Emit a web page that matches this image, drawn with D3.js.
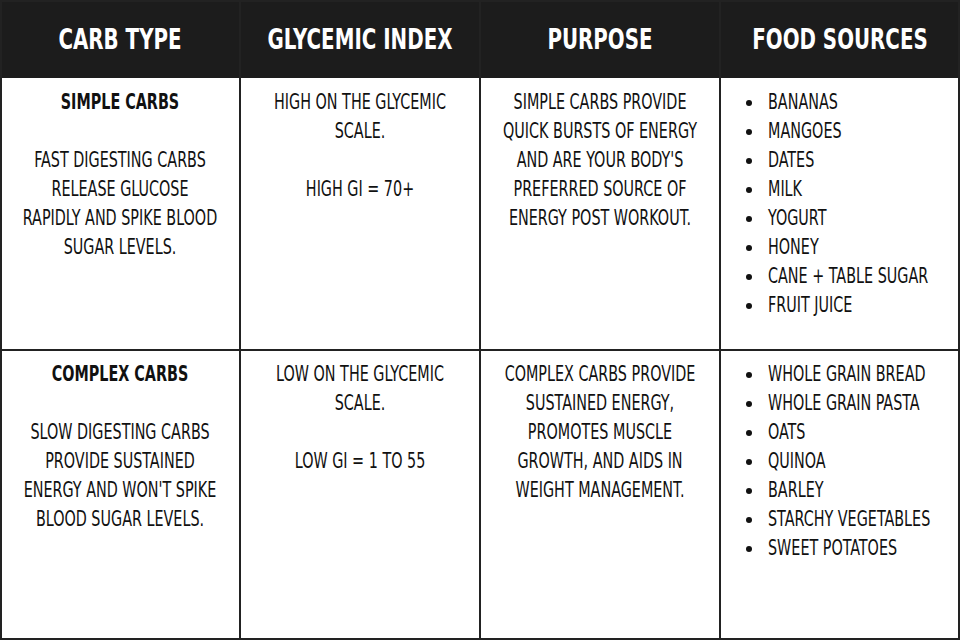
<!DOCTYPE html>
<html>
<head>
<meta charset="utf-8">
<script src="https://cdn.jsdelivr.net/npm/d3@7"></script>
<style>
  body { margin: 0; background: #fff; }
  text { font-family: "DejaVu Sans Condensed", "DejaVu Sans", sans-serif; }
</style>
</head>
<body>
<svg id="chart" width="960" height="640"></svg>
<script>
var headers = ["CARB TYPE", "GLYCEMIC INDEX", "PURPOSE", "FOOD SOURCES"];
var carbTypes = ["SIMPLE CARBS", "COMPLEX CARBS"];
var descriptions = [
  ["FAST DIGESTING CARBS", "RELEASE GLUCOSE", "RAPIDLY AND SPIKE BLOOD", "SUGAR LEVELS."],
  ["SLOW DIGESTING CARBS", "PROVIDE SUSTAINED", "ENERGY AND WON'T SPIKE", "BLOOD SUGAR LEVELS."]
];
var glycemic = [
  ["HIGH ON THE GLYCEMIC", "SCALE.", "", "HIGH GI = 70+"],
  ["LOW ON THE GLYCEMIC", "SCALE.", "", "LOW GI = 1 TO 55"]
];
var purposes = [
  ["SIMPLE CARBS PROVIDE", "QUICK BURSTS OF ENERGY", "AND ARE YOUR BODY'S", "PREFERRED SOURCE OF", "ENERGY POST WORKOUT."],
  ["COMPLEX CARBS PROVIDE", "SUSTAINED ENERGY,", "PROMOTES MUSCLE", "GROWTH, AND AIDS IN", "WEIGHT MANAGEMENT."]
];
var foodSources = [
  ["BANANAS", "MANGOES", "DATES", "MILK", "YOGURT", "HONEY", "CANE + TABLE SUGAR", "FRUIT JUICE"],
  ["WHOLE GRAIN BREAD", "WHOLE GRAIN PASTA", "OATS", "QUINOA", "BARLEY", "STARCHY VEGETABLES", "SWEET POTATOES"]
];

var svg = d3.select("#chart");
var W = 960, H = 640, headH = 78, rowH = [272, 290];
var x = d3.scaleBand().domain(d3.range(4)).range([0, W]);
var rowTop = [headH, headH + rowH[0]];
var lineH = 29;
var squeeze = 0.76; // fake a condensed face

function condense(sel) {
  sel.each(function() {
    var len = this.getComputedTextLength();
    if (len > 0) d3.select(this).attr("textLength", len * squeeze).attr("lengthAdjust", "spacingAndGlyphs");
  });
}

svg.append("rect").attr("width", W).attr("height", headH).attr("fill", "#1c1c1c");
svg.selectAll("text.head").data(headers).enter().append("text")
  .attr("x", function(d, i) { return x(i) + x.bandwidth() / 2; })
  .attr("y", headH / 2 + 2)
  .attr("text-anchor", "middle").attr("dominant-baseline", "middle")
  .attr("fill", "#fff").attr("font-size", 29).attr("font-weight", "bold")
  .text(function(d) { return d; })
  .call(condense);

var g = svg.append("g").attr("stroke", "#222").attr("stroke-width", 2);
d3.range(1, 4).forEach(function(i) {
  g.append("line").attr("x1", x(i)).attr("x2", x(i)).attr("y1", 0).attr("y2", H);
});
g.append("line").attr("x1", 0).attr("x2", W).attr("y1", rowTop[1]).attr("y2", rowTop[1]);
g.append("rect").attr("x", 1).attr("y", 1).attr("width", W - 2).attr("height", H - 2).attr("fill", "none");

function lines(col, top, arr, opts) {
  opts = opts || {};
  var cx = x(col) + x.bandwidth() / 2;
  svg.append("g").selectAll("text").data(arr).enter().append("text")
    .attr("x", opts.left ? x(col) + 48 : cx)
    .attr("y", function(d, i) { return top + 25 + (i + (opts.offset || 0)) * lineH; })
    .attr("text-anchor", opts.left ? "start" : "middle")
    .attr("dominant-baseline", "middle")
    .attr("font-size", 21).attr("fill", "#111")
    .attr("font-weight", opts.bold ? "bold" : "normal")
    .text(function(d) { return d; })
    .call(condense);
  if (opts.left) {
    svg.append("g").selectAll("circle").data(arr).enter().append("circle")
      .attr("cx", x(col) + 29)
      .attr("cy", function(d, i) { return top + 25 + i * lineH; })
      .attr("r", 3).attr("fill", "#111");
  }
}

carbTypes.forEach(function(name, r) {
  var top = rowTop[r];
  lines(0, top, [name], { bold: true });
  lines(0, top, descriptions[r], { offset: 2 });
  lines(1, top, glycemic[r]);
  lines(2, top, purposes[r]);
  lines(3, top, foodSources[r], { left: true });
});
</script>
</body>
</html>
